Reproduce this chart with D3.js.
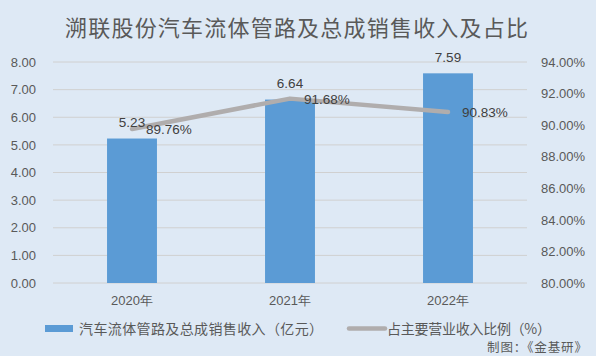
<!DOCTYPE html>
<html><head><meta charset="utf-8">
<script src="https://cdn.jsdelivr.net/npm/d3@7"></script>
<style>body{margin:0;background:#dee9f5;}svg{display:block;font-family:"Noto Sans CJK SC","Microsoft YaHei",sans-serif;}</style>
</head><body><svg id="c" width="596" height="356"></svg>
<script>
const categories = ["2020年","2021年","2022年"];
const revenue = [5.23, 6.64, 7.59];
const share = [89.76, 91.68, 90.83];
const leftTicks = [0,1,2,3,4,5,6,7,8];
const rightTicks = [80,82,84,86,88,90,92,94];
const title = "溯联股份汽车流体管路及总成销售收入及占比";
const legendBar = "汽车流体管路及总成销售收入（亿元）";
const legendLine = "占主要营业收入比例（%）";
const source = "制图：《金基研》";

const svg = d3.select("#c");
svg.append("rect").attr("width",596).attr("height",356).attr("fill","#dee9f5");
const L = 53, R = 527, T = 62, B = 283;
const x = d3.scaleBand().domain(categories).range([L,R]).paddingInner(0.684).paddingOuter(0.342);
const y = d3.scaleLinear().domain([0,8]).range([B,T]);
const y2 = d3.scaleLinear().domain([80,94]).range([B,T]);
const fontC = "#595959";
const numFont = "Liberation Sans, Arial, sans-serif";

svg.append("text").attr("x",65).attr("y",36)
  .attr("font-size",22).attr("fill",fontC)
  .attr("textLength",463).attr("lengthAdjust","spacing").text(title);

// gridlines
svg.append("g").selectAll("line").data(leftTicks).join("line")
  .attr("x1",L).attr("x2",R).attr("y1",d=>y(d)).attr("y2",d=>y(d))
  .attr("stroke","#d0d0d0").attr("stroke-width",1);

const ax = svg.append("g").attr("transform",`translate(${L},0)`)
  .call(d3.axisLeft(y).tickValues(leftTicks).tickFormat(d3.format(".2f")).tickSize(0).tickPadding(17));
ax.select(".domain").remove();
ax.selectAll("text").attr("font-size",13).attr("fill",fontC).attr("font-family",numFont);

const ax2 = svg.append("g").attr("transform",`translate(${R},0)`)
  .call(d3.axisRight(y2).tickValues(rightTicks).tickFormat(d=>d.toFixed(2)+"%").tickSize(0).tickPadding(14));
ax2.select(".domain").remove();
ax2.selectAll("text").attr("font-size",13).attr("fill",fontC).attr("font-family",numFont);

const axb = svg.append("g").attr("transform",`translate(0,${B})`)
  .call(d3.axisBottom(x).tickSize(0).tickPadding(13));
axb.select(".domain").remove();
axb.selectAll("text").attr("font-size",13).attr("fill",fontC);

// bars
svg.append("g").selectAll("rect").data(revenue).join("rect")
  .attr("x",(d,i)=>x(categories[i])).attr("width",x.bandwidth())
  .attr("y",d=>y(d)).attr("height",d=>B-y(d)).attr("fill","#5b9bd5");

// line
const line = d3.line().x((d,i)=>x(categories[i])+x.bandwidth()/2).y(d=>y2(d));
svg.append("path").datum(share).attr("d",line).attr("fill","none")
  .attr("stroke","#b0adad").attr("stroke-width",4.5).attr("stroke-linecap","round").attr("stroke-linejoin","round");

// labels
svg.append("g").selectAll("text").data(revenue).join("text")
  .attr("x",(d,i)=>x(categories[i])+x.bandwidth()/2).attr("y",d=>y(d)-11.5)
  .attr("text-anchor","middle").attr("font-size",13.5).attr("fill","#404040")
  .attr("font-family",numFont).text(d=>d.toFixed(2));
svg.append("g").selectAll("text").data(share).join("text")
  .attr("x",(d,i)=>x(categories[i])+x.bandwidth()/2+14).attr("y",d=>y2(d)+5)
  .attr("font-size",13.5).attr("fill","#404040")
  .attr("font-family",numFont).text(d=>d.toFixed(2)+"%");

// legend
const lg = svg.append("g");
lg.append("rect").attr("x",45).attr("y",325).attr("width",28).attr("height",7).attr("fill","#5b9bd5");
lg.append("text").attr("x",79).attr("y",333.5).attr("font-size",14).attr("fill",fontC)
  .attr("textLength",244).attr("lengthAdjust","spacing").text(legendBar);
lg.append("line").attr("x1",349).attr("x2",385).attr("y1",328.5).attr("y2",328.5).attr("stroke","#b0adad").attr("stroke-width",4.5).attr("stroke-linecap","round");
lg.append("text").attr("x",387).attr("y",333.5).attr("font-size",14).attr("fill",fontC)
  .attr("textLength",164).attr("lengthAdjust","spacing").text(legendLine);
svg.append("text").attr("x",487).attr("y",351.5).attr("font-size",12.5).attr("fill",fontC)
  .attr("textLength",100).attr("lengthAdjust","spacing").text(source);
</script></body></html>
